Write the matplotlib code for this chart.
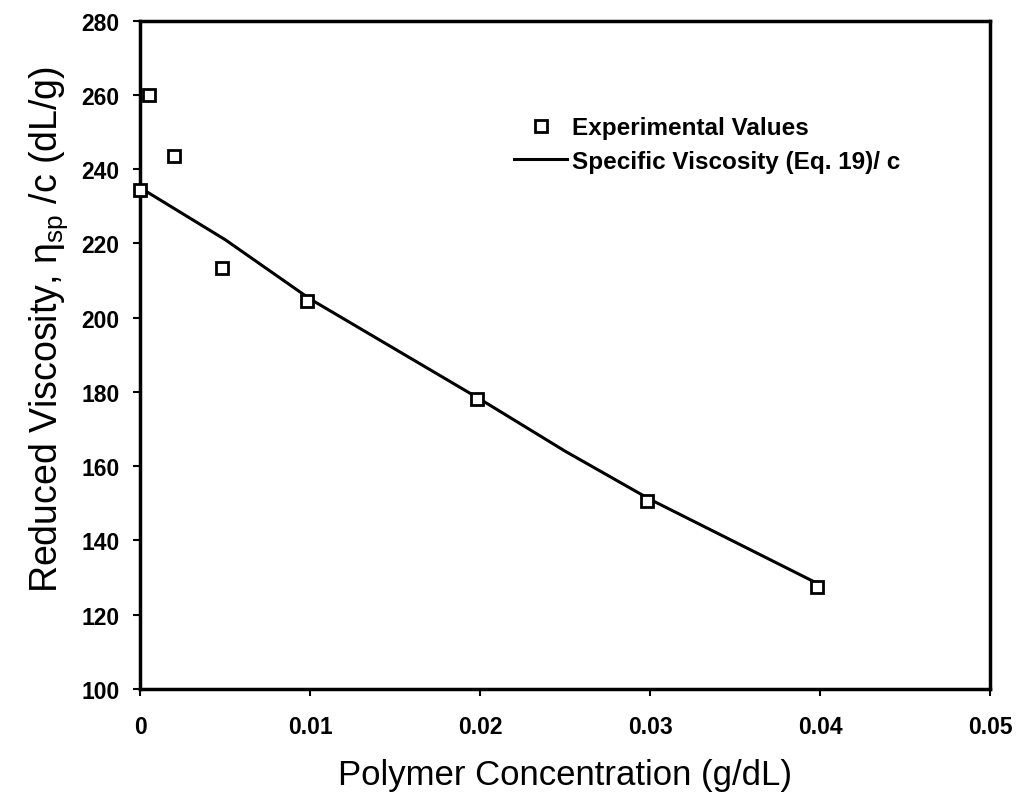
import numpy as np
import matplotlib.pyplot as plt

plt.rcParams['font.family'] = ['Liberation Sans', 'DejaVu Sans']

# experimental points
conc_exp = [0.0, 0.0005, 0.002, 0.0048, 0.0098, 0.0198, 0.0298, 0.0398]
visc_exp = [234.5, 260, 243.5, 213.5, 204.5, 178, 150.5, 127.5]

# calculated curve (Eq. 19)/c
conc_calc = [0.0, 0.005, 0.01, 0.02, 0.025, 0.03, 0.04]
visc_calc = [235, 221, 205, 178, 164, 151, 128]

fig = plt.figure(figsize=(10.23, 8.03), dpi=100)
ax = fig.add_axes([0.137, 0.141, 0.831, 0.832])

ax.plot(conc_calc, visc_calc, 'k-', lw=2.2, label='Specific Viscosity (Eq. 19)/ c', zorder=2)
ax.plot(conc_exp, visc_exp, 's', ms=9, mfc='white', mec='black', mew=2,
        label='Experimental Values', zorder=3, clip_on=False)

ax.set_xlim(0, 0.05)
ax.set_ylim(100, 280)
ax.set_xticks(np.arange(0, 0.051, 0.01))
ax.set_xticklabels(['0', '0.01', '0.02', '0.03', '0.04', '0.05'])
ax.set_yticks(np.arange(100, 281, 20))

for s in ax.spines.values():
    s.set_linewidth(2.5)
ax.tick_params(direction='out', length=5, width=1.5, labelsize=16.5)
ax.tick_params(axis='x', pad=14)
ax.tick_params(axis='y', pad=10)
for lab in ax.get_xticklabels() + ax.get_yticklabels():
    lab.set_fontweight('bold')

ax.set_xlabel('Polymer Concentration (g/dL)', fontsize=25, labelpad=14)
ax.set_ylabel(r'Reduced Viscosity, $\mathregular{\eta_{sp}}$ /c (dL/g)', fontsize=27)
ax.yaxis.set_label_coords(-0.082, 0.54)

h, l = ax.get_legend_handles_labels()
leg = ax.legend(h[::-1], l[::-1], loc='upper left', bbox_to_anchor=(0.414, 0.89),
                frameon=False, handlelength=2.2, numpoints=1,
                prop={'weight': 'bold', 'size': 17.5}, labelspacing=0.45, handletextpad=0.2)

fig.savefig('out.png', dpi=100)
